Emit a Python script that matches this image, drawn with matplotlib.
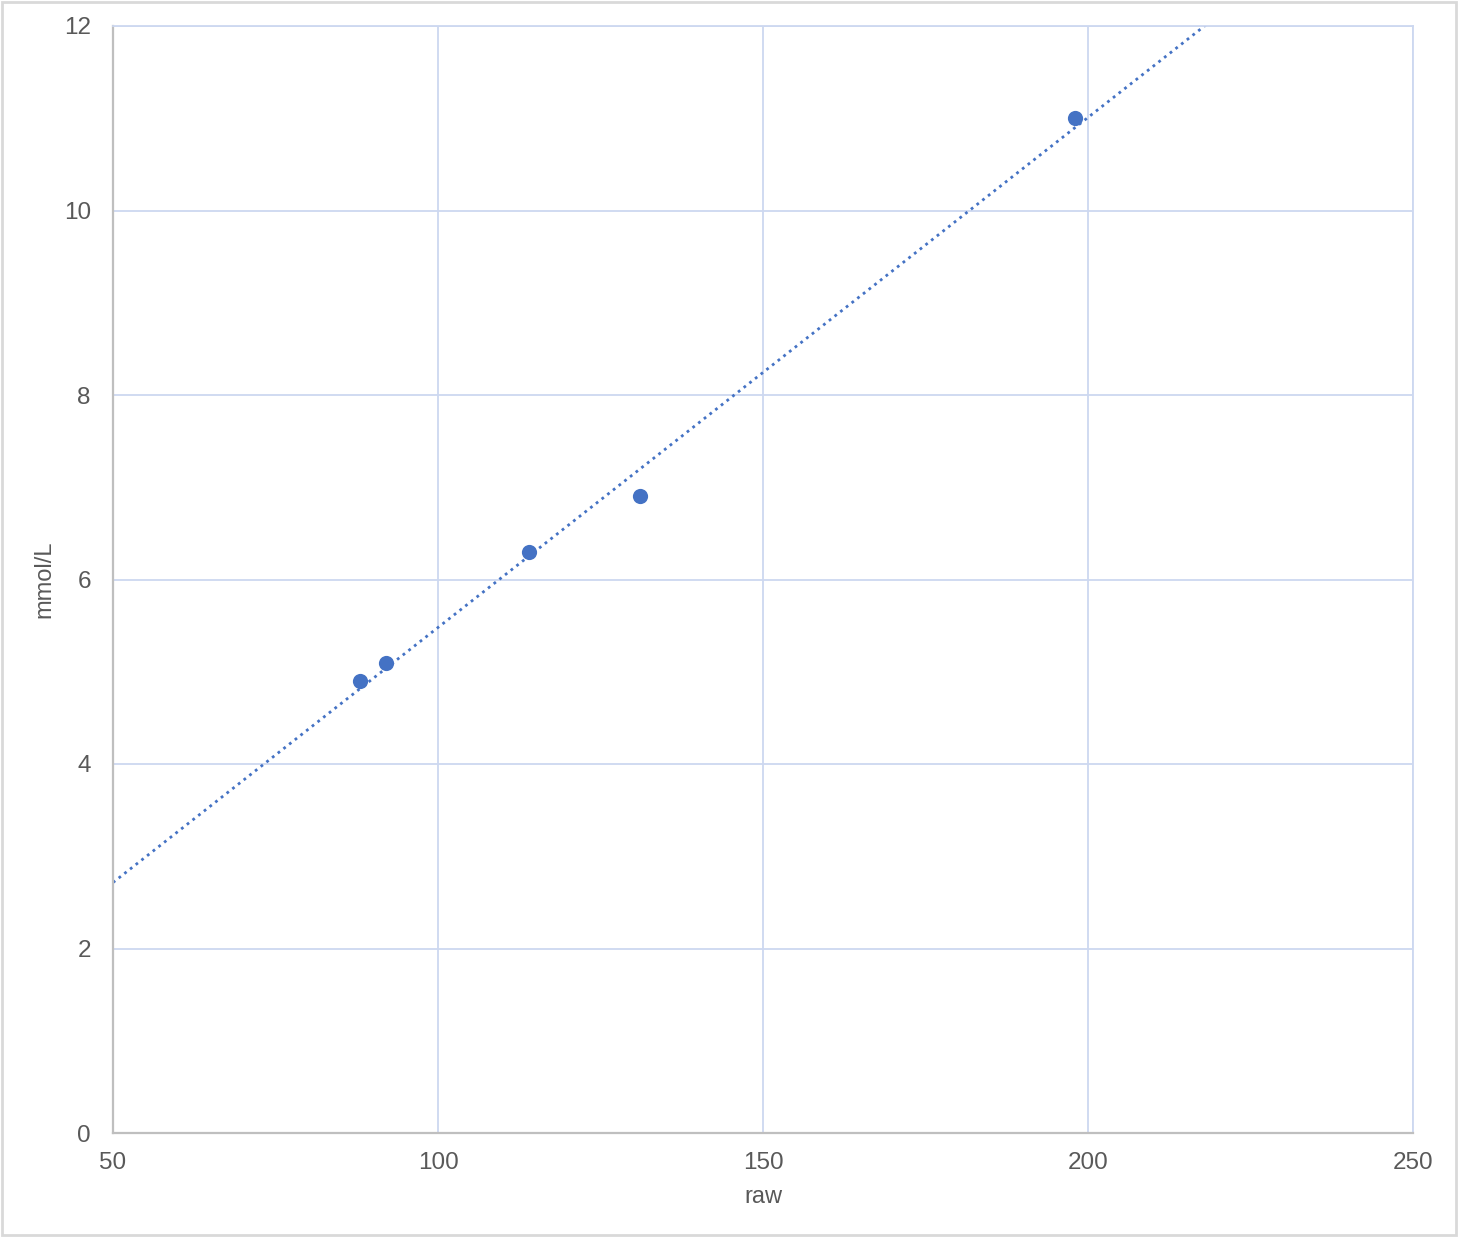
import numpy as np
import matplotlib
matplotlib.use("Agg")
import matplotlib.pyplot as plt
from matplotlib.patches import Rectangle

raw = [88, 92, 114, 131, 198]
mmol = [4.9, 5.1, 6.3, 6.9, 11.0]
x_ticks = [50, 100, 150, 200, 250]
y_ticks = [0, 2, 4, 6, 8, 10, 12]

plt.rcParams['font.family'] = ['Liberation Sans', 'DejaVu Sans']

fig = plt.figure(figsize=(14.58, 12.37), dpi=100)
ax = fig.add_axes([113/1458, 1 - 1133/1237, 1300/1458, 1107/1237])

blue = '#4472C4'
grid_c = '#CDD8F0'
text_c = '#595959'

ax.scatter(raw, mmol, s=120, color=blue, zorder=3, linewidths=0)

slope, intercept = np.polyfit(raw, mmol, 1)
xs = np.array([x_ticks[0], x_ticks[-1]])
ax.plot(xs, slope * xs + intercept, linestyle=(0, (1, 1.6)), color=blue, linewidth=2, zorder=2)

ax.set_xlim(x_ticks[0], x_ticks[-1])
ax.set_ylim(y_ticks[0], y_ticks[-1])
ax.set_xticks(x_ticks)
ax.set_yticks(y_ticks)
ax.grid(True, color=grid_c, linewidth=1.3)
ax.set_axisbelow(True)

for s in ['top', 'right']:
    ax.spines[s].set_color(grid_c)
    ax.spines[s].set_linewidth(1.3)
for s in ['left', 'bottom']:
    ax.spines[s].set_color('#BFBFBF')
    ax.spines[s].set_linewidth(1.6)

ax.tick_params(axis='both', length=0, labelsize=17.5, labelcolor=text_c)
ax.tick_params(axis='y', pad=16)
ax.tick_params(axis='x', pad=14)

ax.set_xlabel('raw', fontsize=17, color=text_c, labelpad=8)
ax.set_ylabel('mmol/L', fontsize=17, color=text_c, labelpad=6)

fig.patches.append(Rectangle((2/1458, 2/1237), 1454/1458, 1233/1237, transform=fig.transFigure,
                             fill=False, edgecolor='#D9D9D9', linewidth=2))

fig.savefig('out.png', dpi=100, facecolor='white')
